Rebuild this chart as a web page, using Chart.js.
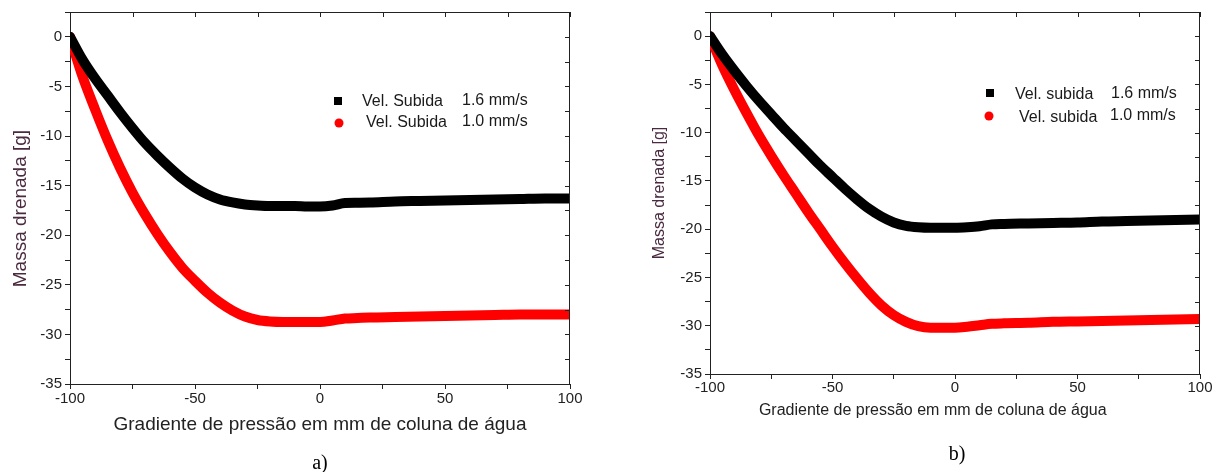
<!DOCTYPE html>
<html>
<head>
<meta charset="utf-8">
<script src="https://cdn.jsdelivr.net/npm/chart.js@4.4.1/dist/chart.umd.min.js"></script>
<style>
body { margin:0; background:#fff; width:1219px; height:472px; overflow:hidden; position:relative; }
.box { position:absolute; top:0; height:472px; }
#boxA { left:0; width:600px; }
#boxB { left:620px; width:599px; }
.cap { position:absolute; font-family:"Liberation Serif", "Times New Roman", serif; font-size:20px; color:#000; transform:translate(-50%,-50%); }
</style>
</head>
<body>
<div class="box" id="boxA"><canvas id="chartA"></canvas></div>
<div class="box" id="boxB"><canvas id="chartB"></canvas></div>
<div class="cap" style="left:320px;top:462px">a)</div>
<div class="cap" style="left:957px;top:453px">b)</div>
<script>
// pressure gradient (mm of water column)
var pressure = [-100,-95,-90,-85,-80,-75,-70,-65,-60,-55,-50,-45,-40,-35,-30,-25,-20,-15,-10,-5,0,5,10,15,20,30,40,50,60,70,80,90,100];

// a) drained mass [g]
var massA16 = [0,-2.3,-4.2,-5.9,-7.6,-9.2,-10.7,-12.0,-13.2,-14.3,-15.2,-15.9,-16.4,-16.7,-16.9,-17.0,-17.05,-17.05,-17.05,-17.1,-17.1,-17.0,-16.75,-16.72,-16.7,-16.6,-16.55,-16.5,-16.45,-16.4,-16.35,-16.3,-16.3];
var massA10 = [0,-4.0,-7.3,-10.4,-13.2,-15.7,-17.9,-19.9,-21.7,-23.3,-24.6,-25.8,-26.8,-27.6,-28.2,-28.55,-28.7,-28.75,-28.75,-28.75,-28.75,-28.6,-28.4,-28.35,-28.3,-28.25,-28.2,-28.15,-28.1,-28.05,-28.0,-28.0,-28.0];

// b) drained mass [g]
var massB16 = [0,-1.9,-3.6,-5.2,-6.7,-8.1,-9.5,-10.8,-12.1,-13.4,-14.6,-15.8,-16.9,-17.9,-18.7,-19.3,-19.65,-19.8,-19.85,-19.85,-19.85,-19.8,-19.7,-19.5,-19.45,-19.4,-19.35,-19.3,-19.2,-19.15,-19.1,-19.05,-19.0];
var massB10 = [0,-3.0,-5.6,-8.0,-10.3,-12.4,-14.4,-16.3,-18.2,-20.0,-21.8,-23.5,-25.1,-26.6,-27.9,-28.9,-29.6,-30.05,-30.2,-30.2,-30.2,-30.1,-29.95,-29.8,-29.75,-29.7,-29.6,-29.55,-29.5,-29.45,-29.4,-29.35,-29.3];

var namesA = ['Vel. Subida', 'Vel. Subida'];
var namesB = ['Vel. subida', 'Vel. subida'];
var speeds = ['1.6 mm/s', '1.0 mm/s'];

var xTitle = 'Gradiente de pressão em mm de coluna de água';
var yTitle = 'Massa drenada [g]';

var FONT = '"Liberation Sans", Arial, sans-serif';

function pts(ys) {
  return pressure.map(function (x, i) { return { x: x, y: ys[i] }; });
}

var framePlugin = {
  id: 'frame',
  afterDraw: function (chart) {
    var ctx = chart.ctx, a = chart.chartArea;
    var xs = chart.scales.x, ys = chart.scales.y;
    ctx.save();
    ctx.strokeStyle = '#222';
    ctx.lineWidth = 1;
    ctx.beginPath();
    ctx.moveTo(a.left, a.top + 0.5); ctx.lineTo(a.right, a.top + 0.5);
    ctx.moveTo(a.right - 0.5, a.top); ctx.lineTo(a.right - 0.5, a.bottom);
    xs.ticks.forEach(function (t) {
      var px = Math.round(xs.getPixelForValue(t.value)) + 0.5;
      ctx.moveTo(px, a.top); ctx.lineTo(px, a.top + 5);
    });
    ys.ticks.forEach(function (t) {
      var py = Math.round(ys.getPixelForValue(t.value)) + 0.5;
      ctx.moveTo(a.right, py); ctx.lineTo(a.right - 5, py);
    });
    ctx.stroke();
    ctx.restore();
  }
};

var legendPlugin = {
  id: 'boxLegend',
  afterDatasetsDraw: function (chart, args, opts) {
    var ctx = chart.ctx;
    ctx.save();
    ctx.font = '16px ' + FONT;
    ctx.textBaseline = 'middle';
    opts.rows.forEach(function (r, i) {
      var ds = chart.data.datasets[i];
      ctx.fillStyle = ds.borderColor;
      if (i === 0) {
        ctx.fillRect(r.mx - 4, r.my - 4, 8, 8);
      } else {
        ctx.beginPath(); ctx.arc(r.mx, r.my, 4.5, 0, Math.PI * 2); ctx.fill();
      }
      ctx.fillStyle = '#1a1a1a';
      ctx.fillText(opts.names[i], r.nx, r.ny);
      ctx.fillText(speeds[i], r.sx, r.sy);
    });
    ctx.restore();
  }
};

function makeChart(id, s16, s10, names, lay) {
  return new Chart(document.getElementById(id), {
    type: 'line',
    data: {
      datasets: [
        { label: names[0] + ' ' + speeds[0], data: pts(s16), borderColor: '#000000', borderWidth: 10, pointRadius: 0, cubicInterpolationMode: 'monotone', borderCapStyle: 'round' },
        { label: names[1] + ' ' + speeds[1], data: pts(s10), borderColor: '#ff0000', borderWidth: 10, pointRadius: 0, cubicInterpolationMode: 'monotone', borderCapStyle: 'round' }
      ]
    },
    options: {
      responsive: true,
      maintainAspectRatio: false,
      animation: false,
      layout: { padding: lay.padding },
      plugins: {
        legend: { display: false },
        tooltip: { enabled: false },
        boxLegend: { rows: lay.rows, names: names }
      },
      scales: {
        x: {
          type: 'linear', min: -100, max: 100,
          afterFit: function (s) { s.height = lay.xh; },
          grid: { drawOnChartArea: false, drawTicks: true, tickLength: 5, tickColor: '#222' },
          border: { display: true, color: '#222', width: 1 },
          ticks: {
            stepSize: 25, autoSkip: false, maxRotation: 0, color: '#222', padding: lay.xpad,
            font: { family: FONT, size: 15 },
            callback: function (v) { return v % 50 === 0 ? v : ''; }
          },
          title: { display: true, text: xTitle + lay.xTail, color: '#222', font: { family: FONT, size: lay.xFont }, padding: { top: 0, bottom: 4 } }
        },
        y: {
          type: 'linear', min: -35, max: 2.5,
          afterFit: function (s) { s.width = lay.yw; },
          grid: { drawOnChartArea: false, drawTicks: true, tickLength: 5, tickColor: '#222' },
          border: { display: true, color: '#222', width: 1 },
          ticks: {
            stepSize: 2.5, autoSkip: false, color: '#222', padding: 3,
            font: { family: FONT, size: 15 },
            callback: function (v) { return v % 5 === 0 ? v : ''; }
          },
          title: { display: true, text: yTitle + lay.yTail, color: '#4a2a40', font: { family: FONT, size: lay.yFont }, padding: { top: 4, bottom: 4 } }
        }
      }
    },
    plugins: [framePlugin, legendPlugin]
  });
}

makeChart('chartA', massA16, massA10, namesA, {
  padding: { left: 5, right: 30, top: 12, bottom: 32 },
  yw: 65, xh: 56, xpad: 1,
  xFont: 19, yFont: 19, xTail: '', yTail: '    ',
  rows: [
    { mx: 338, my: 101, nx: 362, ny: 102, sx: 462, sy: 101 },
    { mx: 339, my: 123, nx: 366, ny: 123, sx: 462, sy: 122 }
  ]
});

makeChart('chartB', massB16, massB10, namesB, {
  padding: { left: 26, right: 19, top: 8, bottom: 48 },
  yw: 64, xh: 50, xpad: 0,
  xFont: 16, yFont: 16, xTail: '          ', yTail: '',
  rows: [
    { mx: 370, my: 93, nx: 395, ny: 95, sx: 491, sy: 94 },
    { mx: 369, my: 116, nx: 399, ny: 118, sx: 490, sy: 116 }
  ]
});
</script>
</body>
</html>
